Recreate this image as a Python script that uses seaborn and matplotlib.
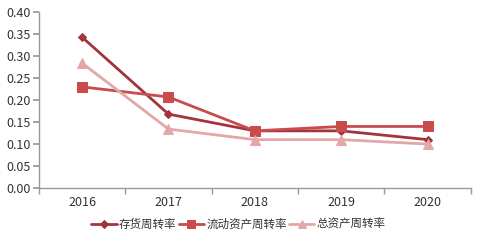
import matplotlib
matplotlib.use("Agg")
import matplotlib.pyplot as plt
import seaborn as sns
import pandas as pd
import numpy as np

years = ["2016", "2017", "2018", "2019", "2020"]
inventory = [0.343, 0.168, 0.130, 0.130, 0.110]
current_assets = [0.230, 0.207, 0.130, 0.140, 0.140]
total_assets = [0.284, 0.134, 0.110, 0.110, 0.100]
series_names = ["存货周转率", "流动资产周转率", "总资产周转率"]

sns.set_theme(style="white")
plt.rcParams['font.family'] = ['Noto Sans CJK SC', 'DejaVu Sans']

rows = []
for name, vals in zip(series_names, [inventory, current_assets, total_assets]):
    for i, v in enumerate(vals):
        rows.append({"pos": i, "year": years[i], "value": v, "series": name})
df = pd.DataFrame(rows)

fig = plt.figure(figsize=(4.8, 2.42), dpi=100)
ax = fig.add_axes([0.081, 0.223, 0.900, 0.727])

colors = ["#A3343B", "#C94B4B", "#E2A8A7"]
markers = ["D", "s", "^"]
msizes = [4.5, 7, 7]
for name, c, m, ms in zip(series_names, colors, markers, msizes):
    sub = df[df.series == name]
    sns.lineplot(data=sub, x="pos", y="value", ax=ax, color=c, marker=m,
                 markersize=ms, markeredgecolor=c, linewidth=2, label=name)

ax.set_xlim(-0.5, 4.5)
ax.set_ylim(0, 0.40)
ax.set_yticks(np.arange(0, 0.401, 0.05))
ax.set_yticklabels([f"{v:.2f}" for v in np.arange(0, 0.401, 0.05)])
ax.set_xticks(range(5))
ax.set_xticklabels(years)
ax.set_xticks(np.arange(-0.5, 4.51, 1), minor=True)
ax.tick_params(axis="x", which="major", length=0, pad=6, labelsize=9, colors="#333333")
ax.tick_params(axis="x", which="minor", length=4, color="#999999", bottom=True)
ax.tick_params(axis="y", length=4, color="#999999", left=True, labelsize=9, labelcolor="#333333", pad=2)
ax.set_xlabel("")
ax.set_ylabel("")
for s in ["top", "right"]:
    ax.spines[s].set_visible(False)
for s in ["left", "bottom"]:
    ax.spines[s].set_color("#999999")
    ax.spines[s].set_linewidth(1)
ax.grid(False)

ax.legend(loc="upper center", bbox_to_anchor=(0.462, -0.11), ncol=3, frameon=False,
          fontsize=8.3, handlelength=2.2, columnspacing=0.2, handletextpad=0.2,
          labelcolor="#333333", markerscale=0.8)

fig.savefig("out.png", dpi=100)
